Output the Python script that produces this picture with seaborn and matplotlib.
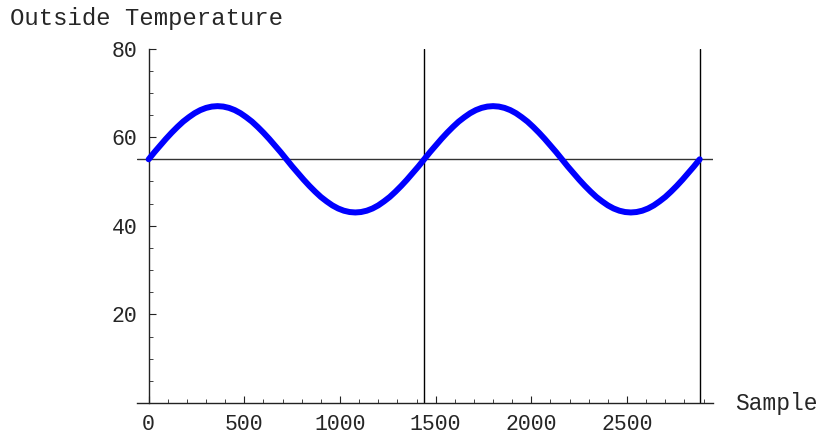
import matplotlib
matplotlib.use("Agg")
import matplotlib.pyplot as plt
import seaborn as sns
import pandas as pd
from matplotlib.ticker import MultipleLocator

# sample index (every 30th sample) and outside temperature
samples = [0, 30, 60, 90, 120, 150, 180, 210, 240, 270, 300, 330,
           360, 390, 420, 450, 480, 510, 540, 570, 600, 630, 660, 690,
           720, 750, 780, 810, 840, 870, 900, 930, 960, 990, 1020, 1050,
           1080, 1110, 1140, 1170, 1200, 1230, 1260, 1290, 1320, 1350, 1380, 1410,
           1440, 1470, 1500, 1530, 1560, 1590, 1620, 1650, 1680, 1710, 1740, 1770,
           1800, 1830, 1860, 1890, 1920, 1950, 1980, 2010, 2040, 2070, 2100, 2130,
           2160, 2190, 2220, 2250, 2280, 2310, 2340, 2370, 2400, 2430, 2460, 2490,
           2520, 2550, 2580, 2610, 2640, 2670, 2700, 2730, 2760, 2790, 2820, 2850,
           2880]
temps = [55.0, 56.6, 58.1, 59.6, 61.0, 62.3, 63.5, 64.5, 65.4, 66.1, 66.6, 66.9,
         67.0, 66.9, 66.6, 66.1, 65.4, 64.5, 63.5, 62.3, 61.0, 59.6, 58.1, 56.6,
         55.0, 53.4, 51.9, 50.4, 49.0, 47.7, 46.5, 45.5, 44.6, 43.9, 43.4, 43.1,
         43.0, 43.1, 43.4, 43.9, 44.6, 45.5, 46.5, 47.7, 49.0, 50.4, 51.9, 53.4,
         55.0, 56.6, 58.1, 59.6, 61.0, 62.3, 63.5, 64.5, 65.4, 66.1, 66.6, 66.9,
         67.0, 66.9, 66.6, 66.1, 65.4, 64.5, 63.5, 62.3, 61.0, 59.6, 58.1, 56.6,
         55.0, 53.4, 51.9, 50.4, 49.0, 47.7, 46.5, 45.5, 44.6, 43.9, 43.4, 43.1,
         43.0, 43.1, 43.4, 43.9, 44.6, 45.5, 46.5, 47.7, 49.0, 50.4, 51.9, 53.4,
         55.0]
mean_temp = 55
day_marks = [1440, 2880]

df = pd.DataFrame({"Sample": samples, "Temp": temps})

sns.set_style("ticks")
plt.rcParams["font.family"] = ["Liberation Mono", "DejaVu Sans"]

fig = plt.figure(figsize=(8.23, 4.36), dpi=100)
ax = fig.add_axes([0.166, 0.0757, 0.700, 0.813])

# reference lines
ax.axhline(mean_temp, color="#333333", lw=1.0, zorder=1)
for d in day_marks:
    ax.axvline(d, color="black", lw=1.0, zorder=1)

sns.lineplot(data=df, x="Sample", y="Temp", ax=ax, color="#0000ff", lw=4.3,
             solid_capstyle="round", solid_joinstyle="round", zorder=3)

ax.set_xlim(-63, 2948)
ax.set_ylim(0, 80)

for s in ["top", "right"]:
    ax.spines[s].set_visible(False)
ax.spines["left"].set_position(("data", 0))
ax.spines["bottom"].set_position(("data", 0))
ax.spines["left"].set_bounds(0, 80)
for s in ["left", "bottom"]:
    ax.spines[s].set_color("#222222")
    ax.spines[s].set_linewidth(1.0)

ax.set_xticks([0, 500, 1000, 1500, 2000, 2500])
ax.set_yticks([20, 40, 60, 80])
ax.xaxis.set_minor_locator(MultipleLocator(100))
ax.yaxis.set_minor_locator(MultipleLocator(5))
ax.tick_params(which="major", direction="in", length=5, width=0.8, color="#222222",
               labelsize=15.5, pad=8)
ax.tick_params(which="minor", direction="in", length=3, width=0.6, color="#222222")

ax.set_xlabel("")
ax.set_ylabel("")
fig.text(10 / 823, 1 - 18 / 436, "Outside Temperature", fontsize=17.2, ha="left", va="center")
fig.text(735 / 823, 1 - 403 / 436, "Sample", fontsize=16.5, ha="left", va="center")

fig.savefig("out.png", dpi=100)
